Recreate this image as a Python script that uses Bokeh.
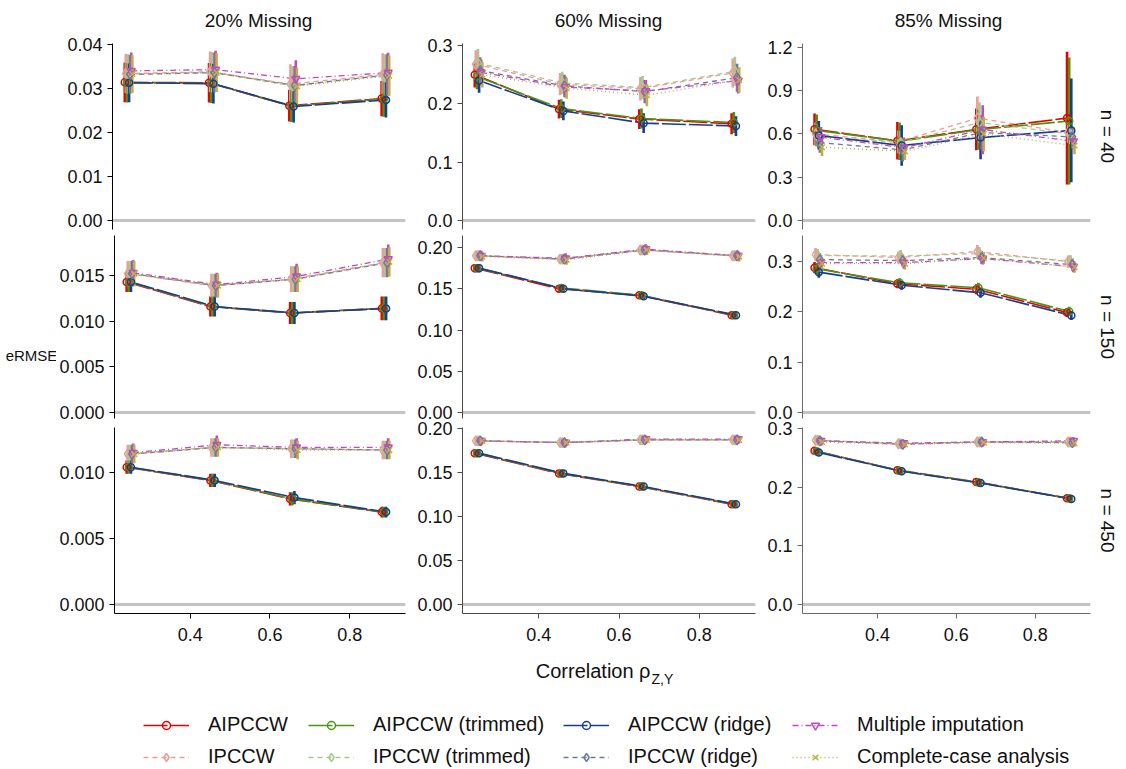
import numpy as np
from bokeh.plotting import figure
from bokeh.layouts import column, row
from bokeh.models import (Range1d, FixedTicker, PrintfTickFormatter, Span, Title,
                          Label, Legend, LegendItem)
from bokeh.embed import file_html
from bokeh.resources import INLINE

# ---------------- data ----------------
rho = [0.25, 0.46, 0.66, 0.89]
methods = ["AIPCCW", "IPCCW", "AIPCCW (trimmed)", "IPCCW (trimmed)",
           "AIPCCW (ridge)", "IPCCW (ridge)", "Multiple imputation",
           "Complete-case analysis"]
missing_labels = ["20% Missing", "60% Missing", "85% Missing"]
n_labels = ["n = 40", "n = 150", "n = 450"]

# eRMSE per panel, rows follow `methods`
erm_n40_m20 = [
    [0.0314, 0.0313, 0.0261, 0.0277],
    [0.0334, 0.0338, 0.0310, 0.0332],
    [0.0313, 0.0312, 0.0260, 0.0276],
    [0.0333, 0.0337, 0.0306, 0.0330],
    [0.0313, 0.0311, 0.0259, 0.0274],
    [0.0332, 0.0336, 0.0307, 0.0331],
    [0.0340, 0.0343, 0.0322, 0.0336],
    [0.0333, 0.0336, 0.0305, 0.0329],
]
se_n40_m20 = [
    [0.0045, 0.0045, 0.0036, 0.0040],
    [0.0045, 0.0046, 0.0045, 0.0048],
    [0.0045, 0.0045, 0.0036, 0.0040],
    [0.0045, 0.0046, 0.0045, 0.0048],
    [0.0044, 0.0045, 0.0036, 0.0040],
    [0.0044, 0.0045, 0.0044, 0.0047],
    [0.0042, 0.0043, 0.0042, 0.0045],
    [0.0043, 0.0044, 0.0043, 0.0046],
]
erm_n40_m60 = [
    [0.250, 0.191, 0.174, 0.166],
    [0.268, 0.234, 0.226, 0.253],
    [0.247, 0.192, 0.175, 0.168],
    [0.270, 0.236, 0.228, 0.256],
    [0.240, 0.188, 0.167, 0.162],
    [0.257, 0.231, 0.221, 0.245],
    [0.254, 0.229, 0.222, 0.240],
    [0.250, 0.227, 0.215, 0.241],
]
se_n40_m60 = [
    [0.022, 0.016, 0.017, 0.018],
    [0.024, 0.019, 0.020, 0.025],
    [0.022, 0.016, 0.017, 0.018],
    [0.024, 0.019, 0.020, 0.025],
    [0.021, 0.016, 0.017, 0.017],
    [0.023, 0.019, 0.020, 0.024],
    [0.022, 0.018, 0.019, 0.022],
    [0.022, 0.018, 0.019, 0.022],
]
erm_n40_m85 = [
    [0.632, 0.553, 0.632, 0.710],
    [0.600, 0.545, 0.710, 0.610],
    [0.625, 0.550, 0.630, 0.690],
    [0.585, 0.540, 0.680, 0.600],
    [0.590, 0.520, 0.575, 0.625],
    [0.540, 0.490, 0.610, 0.580],
    [0.578, 0.505, 0.630, 0.550],
    [0.508, 0.480, 0.600, 0.520],
]
se_n40_m85 = [
    [0.110, 0.130, 0.145, 0.460],
    [0.080, 0.080, 0.150, 0.070],
    [0.110, 0.130, 0.140, 0.440],
    [0.080, 0.080, 0.140, 0.070],
    [0.100, 0.140, 0.150, 0.360],
    [0.070, 0.080, 0.120, 0.070],
    [0.070, 0.070, 0.170, 0.060],
    [0.060, 0.060, 0.120, 0.060],
]
erm_n150_m20 = [
    [0.0143, 0.0116, 0.0109, 0.0114],
    [0.0152, 0.0139, 0.0146, 0.0164],
    [0.0143, 0.0116, 0.0109, 0.0114],
    [0.0152, 0.0139, 0.0146, 0.0164],
    [0.0143, 0.0116, 0.0109, 0.0114],
    [0.0152, 0.0139, 0.0146, 0.0164],
    [0.0153, 0.0140, 0.0149, 0.0168],
    [0.0152, 0.0139, 0.0146, 0.0165],
]
se_n150_m20 = [
    [0.0011, 0.0011, 0.0012, 0.0013],
    [0.0014, 0.0013, 0.0014, 0.0016],
    [0.0011, 0.0011, 0.0012, 0.0013],
    [0.0014, 0.0013, 0.0014, 0.0016],
    [0.0011, 0.0011, 0.0012, 0.0013],
    [0.0014, 0.0013, 0.0014, 0.0016],
    [0.0014, 0.0013, 0.0014, 0.0016],
    [0.0014, 0.0013, 0.0014, 0.0016],
]
erm_n150_m60 = [
    [0.175, 0.150, 0.142, 0.118],
    [0.190, 0.186, 0.197, 0.190],
    [0.175, 0.151, 0.142, 0.118],
    [0.190, 0.186, 0.197, 0.190],
    [0.175, 0.150, 0.141, 0.118],
    [0.190, 0.186, 0.197, 0.190],
    [0.190, 0.187, 0.198, 0.190],
    [0.189, 0.185, 0.197, 0.189],
]
se_n150_m60 = [
    [0.005, 0.004, 0.004, 0.004],
    [0.006, 0.006, 0.006, 0.006],
    [0.005, 0.004, 0.004, 0.004],
    [0.006, 0.006, 0.006, 0.006],
    [0.005, 0.004, 0.004, 0.004],
    [0.006, 0.006, 0.006, 0.006],
    [0.006, 0.006, 0.006, 0.006],
    [0.006, 0.006, 0.006, 0.006],
]
erm_n150_m85 = [
    [0.288, 0.256, 0.245, 0.199],
    [0.314, 0.308, 0.320, 0.300],
    [0.286, 0.258, 0.248, 0.201],
    [0.312, 0.311, 0.316, 0.301],
    [0.279, 0.253, 0.238, 0.193],
    [0.304, 0.302, 0.308, 0.294],
    [0.298, 0.298, 0.306, 0.290],
    [0.296, 0.296, 0.307, 0.289],
]
se_n150_m85 = [
    [0.011, 0.009, 0.010, 0.009],
    [0.013, 0.012, 0.013, 0.012],
    [0.011, 0.009, 0.010, 0.009],
    [0.013, 0.012, 0.013, 0.012],
    [0.011, 0.009, 0.010, 0.009],
    [0.013, 0.012, 0.013, 0.012],
    [0.012, 0.012, 0.012, 0.011],
    [0.012, 0.012, 0.012, 0.011],
]
erm_n450_m20 = [
    [0.0104, 0.0094, 0.0080, 0.0070],
    [0.0114, 0.0119, 0.0118, 0.0117],
    [0.0104, 0.0094, 0.0080, 0.0070],
    [0.0114, 0.0119, 0.0118, 0.0117],
    [0.0104, 0.0094, 0.0081, 0.0070],
    [0.0114, 0.0119, 0.0118, 0.0117],
    [0.0115, 0.0121, 0.0119, 0.0119],
    [0.0114, 0.0119, 0.0117, 0.0117],
]
se_n450_m20 = [
    [0.0005, 0.0005, 0.0005, 0.0004],
    [0.0007, 0.0007, 0.0007, 0.0007],
    [0.0005, 0.0005, 0.0005, 0.0004],
    [0.0007, 0.0007, 0.0007, 0.0007],
    [0.0005, 0.0005, 0.0005, 0.0004],
    [0.0007, 0.0007, 0.0007, 0.0007],
    [0.0007, 0.0007, 0.0007, 0.0007],
    [0.0007, 0.0007, 0.0007, 0.0007],
]
erm_n450_m60 = [
    [0.172, 0.149, 0.134, 0.114],
    [0.186, 0.184, 0.187, 0.187],
    [0.172, 0.149, 0.134, 0.114],
    [0.186, 0.184, 0.187, 0.187],
    [0.172, 0.149, 0.134, 0.114],
    [0.186, 0.184, 0.187, 0.187],
    [0.186, 0.184, 0.188, 0.188],
    [0.186, 0.184, 0.187, 0.187],
]
se_n450_m60 = [
    [0.003, 0.003, 0.003, 0.003],
    [0.004, 0.004, 0.004, 0.004],
    [0.003, 0.003, 0.003, 0.003],
    [0.004, 0.004, 0.004, 0.004],
    [0.003, 0.003, 0.003, 0.003],
    [0.004, 0.004, 0.004, 0.004],
    [0.004, 0.004, 0.004, 0.004],
    [0.004, 0.004, 0.004, 0.004],
]
erm_n450_m85 = [
    [0.262, 0.229, 0.209, 0.181],
    [0.280, 0.274, 0.277, 0.277],
    [0.261, 0.228, 0.208, 0.181],
    [0.280, 0.274, 0.277, 0.277],
    [0.259, 0.227, 0.207, 0.180],
    [0.279, 0.273, 0.277, 0.276],
    [0.279, 0.275, 0.277, 0.279],
    [0.277, 0.273, 0.276, 0.275],
]
se_n450_m85 = [
    [0.005, 0.005, 0.005, 0.005],
    [0.006, 0.006, 0.006, 0.006],
    [0.005, 0.005, 0.005, 0.005],
    [0.006, 0.006, 0.006, 0.006],
    [0.005, 0.005, 0.005, 0.005],
    [0.006, 0.006, 0.006, 0.006],
    [0.006, 0.006, 0.006, 0.006],
    [0.006, 0.006, 0.006, 0.006],
]

panel_values = [[erm_n40_m20, erm_n40_m60, erm_n40_m85],
                [erm_n150_m20, erm_n150_m60, erm_n150_m85],
                [erm_n450_m20, erm_n450_m60, erm_n450_m85]]
panel_errors = [[se_n40_m20, se_n40_m60, se_n40_m85],
                [se_n150_m20, se_n150_m60, se_n150_m85],
                [se_n450_m20, se_n450_m60, se_n450_m85]]

y_ticks = [[[0, 0.01, 0.02, 0.03, 0.04], [0, 0.1, 0.2, 0.3], [0, 0.3, 0.6, 0.9, 1.2]],
           [[0, 0.005, 0.010, 0.015], [0, 0.05, 0.10, 0.15, 0.20], [0, 0.1, 0.2, 0.3]],
           [[0, 0.005, 0.010], [0, 0.05, 0.10, 0.15, 0.20], [0, 0.1, 0.2, 0.3]]]
y_fmt = [["%.2f", "%.1f", "%.1f"], ["%.3f", "%.2f", "%.1f"], ["%.3f", "%.2f", "%.1f"]]
x_ticks = [0.4, 0.6, 0.8]

# ---------------- style ----------------
FONT = "Liberation Sans"
colors = ["#e60000", "#f29a9a", "#4a960f", "#a9c98c", "#163d8f", "#6e7a96", "#c04ac0", "#bbb04a"]
dashes = ["24 3", "5 4", "24 3", "5 4", "24 3", "5 4", "6 3 1 3", "1 3"]
markers = ["circle", "diamond", "circle", "diamond", "circle", "diamond", "inverted_triangle", "x"]
msize = [7, 10, 7, 10, 7, 10, 8, 8]
lwidth = [1.6, 1.3, 1.6, 1.3, 1.6, 1.3, 1.3, 1.4]
dodge = 0.0027

# pixel geometry per row: (px below zero, px above zero); px per data unit per panel
row_geom = [(9, 177), (6, 177), (9, 177)]
ppu = [[4400, 583, 144.2], [9133, 825, 503], [13200, 880, 586.7]]
axis_col = ["#000000", "#4a4a4a", "#6a6a6a"]

TOP_H = 43
LEFT_W = 56
col_w = [410 - LEFT_W, 350, 366]
col_bl = [112 - LEFT_W, 52, 42]
col_br = [5, 5, 31]
col_center = [258, 608, 948]
row_h = [201, 191, 239]
row_bt = [11, 2, 11]
row_bb = [4, 6, 42]
row_overlap = [11, 0, 8]   # canvases slide up over the transparent border above


def make_panel(r, c):
    below, above = row_geom[r]
    k = ppu[r][c]
    p = figure(width=col_w[c], height=row_h[r], output_backend="svg", toolbar_location=None,
               x_range=Range1d(0.21, 0.94), y_range=Range1d(-below / k, above / k),
               min_border_left=col_bl[c], min_border_right=col_br[c],
               min_border_top=row_bt[r], min_border_bottom=row_bb[r],
               x_axis_location="below" if r == 2 else None, y_axis_location="left")
    p.outline_line_color = None
    p.grid.visible = False
    p.background_fill_color = "white"
    p.border_fill_color = None

    p.add_layout(Span(location=0, dimension="width", line_color="#c4c4c4",
                      line_width=3, level="underlay"))

    vals = panel_values[r][c]
    errs = panel_errors[r][c]
    xs_all = []
    for i in range(len(methods)):
        xs_all.append([x + (i - 3.5) * dodge for x in rho])
    for i in range(len(methods)):
        p.line(xs_all[i], vals[i], line_color=colors[i], line_width=lwidth[i],
               line_dash=dashes[i])
    for i in range(len(methods)):
        v = np.array(vals[i]); e = np.array(errs[i])
        p.segment(x0=xs_all[i], y0=v - e, x1=xs_all[i], y1=v + e,
                  line_color=colors[i], line_width=2.6)
    for i in range(len(methods)):
        p.scatter(xs_all[i], vals[i], marker=markers[i], size=msize[i],
                  line_color=colors[i], fill_color=None, line_width=1.5)

    for ax in p.yaxis:
        ax.ticker = FixedTicker(ticks=y_ticks[r][c])
        ax.formatter = PrintfTickFormatter(format=y_fmt[r][c])
    for ax in p.axis:
        ax.axis_line_color = axis_col[c]
        ax.major_tick_line_color = axis_col[c]
        ax.minor_tick_line_color = None
        ax.major_tick_in = 0
        ax.major_tick_out = 5
        ax.major_label_text_font = FONT
        ax.major_label_text_font_size = "18px"
        ax.major_label_text_color = "#111111"
        ax.major_label_standoff = 5
    if r == 2:
        p.xaxis.ticker = FixedTicker(ticks=x_ticks)
        p.xaxis.formatter = PrintfTickFormatter(format="%.1f")
        p.xaxis.major_label_standoff = 9

    if c == 2:
        t = Title(text=n_labels[r], align="center", text_font=FONT, text_font_size="19px",
                  text_font_style="normal", text_color="#111111", standoff=13)
        p.add_layout(t, "right")
    return p


# top strip with the column titles
ft = figure(width=1126, height=TOP_H, output_backend="svg", toolbar_location=None,
            x_range=Range1d(0, 1126), y_range=Range1d(TOP_H, 0),
            min_border=0, x_axis_location=None, y_axis_location=None)
ft.outline_line_color = None
ft.grid.visible = False
ft.border_fill_color = None
ft.background_fill_color = None
for c in range(3):
    ft.add_layout(Label(x=col_center[c], y=20, text=missing_labels[c], text_align="center",
                        text_baseline="middle", text_font=FONT, text_font_size="19px",
                        text_color="#111111"))

# left strip with the y-axis title
GRID_H = sum(row_h) - sum(row_overlap)
fl = figure(width=LEFT_W, height=GRID_H, output_backend="svg", toolbar_location=None,
            x_range=Range1d(0, LEFT_W), y_range=Range1d(GRID_H, 0),
            min_border=0, x_axis_location=None, y_axis_location=None)
fl.outline_line_color = None
fl.grid.visible = False
fl.add_layout(Label(x=31, y=355 - TOP_H, text="eRMSE", text_align="center",
                    text_baseline="middle", text_font=FONT, text_font_size="15px",
                    text_color="#111111"))

grid_rows = []
for r in range(3):
    rw = row(*[make_panel(r, c) for c in range(3)])
    if row_overlap[r]:
        rw.margin = (-row_overlap[r], 0, 0, 0)
    grid_rows.append(rw)

# bottom: axis title + legend
fb = figure(width=1126, height=114, output_backend="svg", toolbar_location=None,
            x_range=Range1d(0, 1126), y_range=Range1d(0, 114),
            min_border=0, x_axis_location=None, y_axis_location=None)
fb.outline_line_color = None
fb.grid.visible = False
fb.add_layout(Label(x=650, y=99, text="Correlation \u03c1", text_align="right",
                    text_baseline="middle", text_font=FONT, text_font_size="20px",
                    text_color="#111111"))
fb.add_layout(Label(x=651, y=91, text="Z,Y", text_align="left",
                    text_baseline="middle", text_font=FONT, text_font_size="14px",
                    text_color="#111111"))

legend_cols = [[0, 1], [2, 3], [4, 5], [6, 7]]
legend_x = [143, 308, 563, 792]
for li, idxs in enumerate(legend_cols):
    items = []
    for i in idxs:
        # legend proxies use the real series (first panel) but are not drawn
        lr = fb.line(rho, erm_n40_m20[i], line_color=colors[i], line_width=lwidth[i],
                     line_dash=dashes[i], visible=False)
        sr = fb.scatter(rho, erm_n40_m20[i], marker=markers[i], size=msize[i] - 1,
                        line_color=colors[i], fill_color=None, line_width=1.5, visible=False)
        items.append(LegendItem(label=methods[i], renderers=[lr, sr]))
    lg = Legend(items=items, location=(legend_x[li], 1), orientation="vertical",
                padding=0, margin=0, spacing=9, glyph_width=46, glyph_height=20,
                label_height=20, label_standoff=19, label_text_font=FONT,
                label_text_font_size="20px", label_text_color="#111111",
                label_text_baseline="middle",
                background_fill_alpha=0, border_line_alpha=0)
    fb.add_layout(lg, "center")

layout = column(ft, row(fl, column(*grid_rows)), fb)
open("out.html", "w").write(file_html(layout, INLINE))
